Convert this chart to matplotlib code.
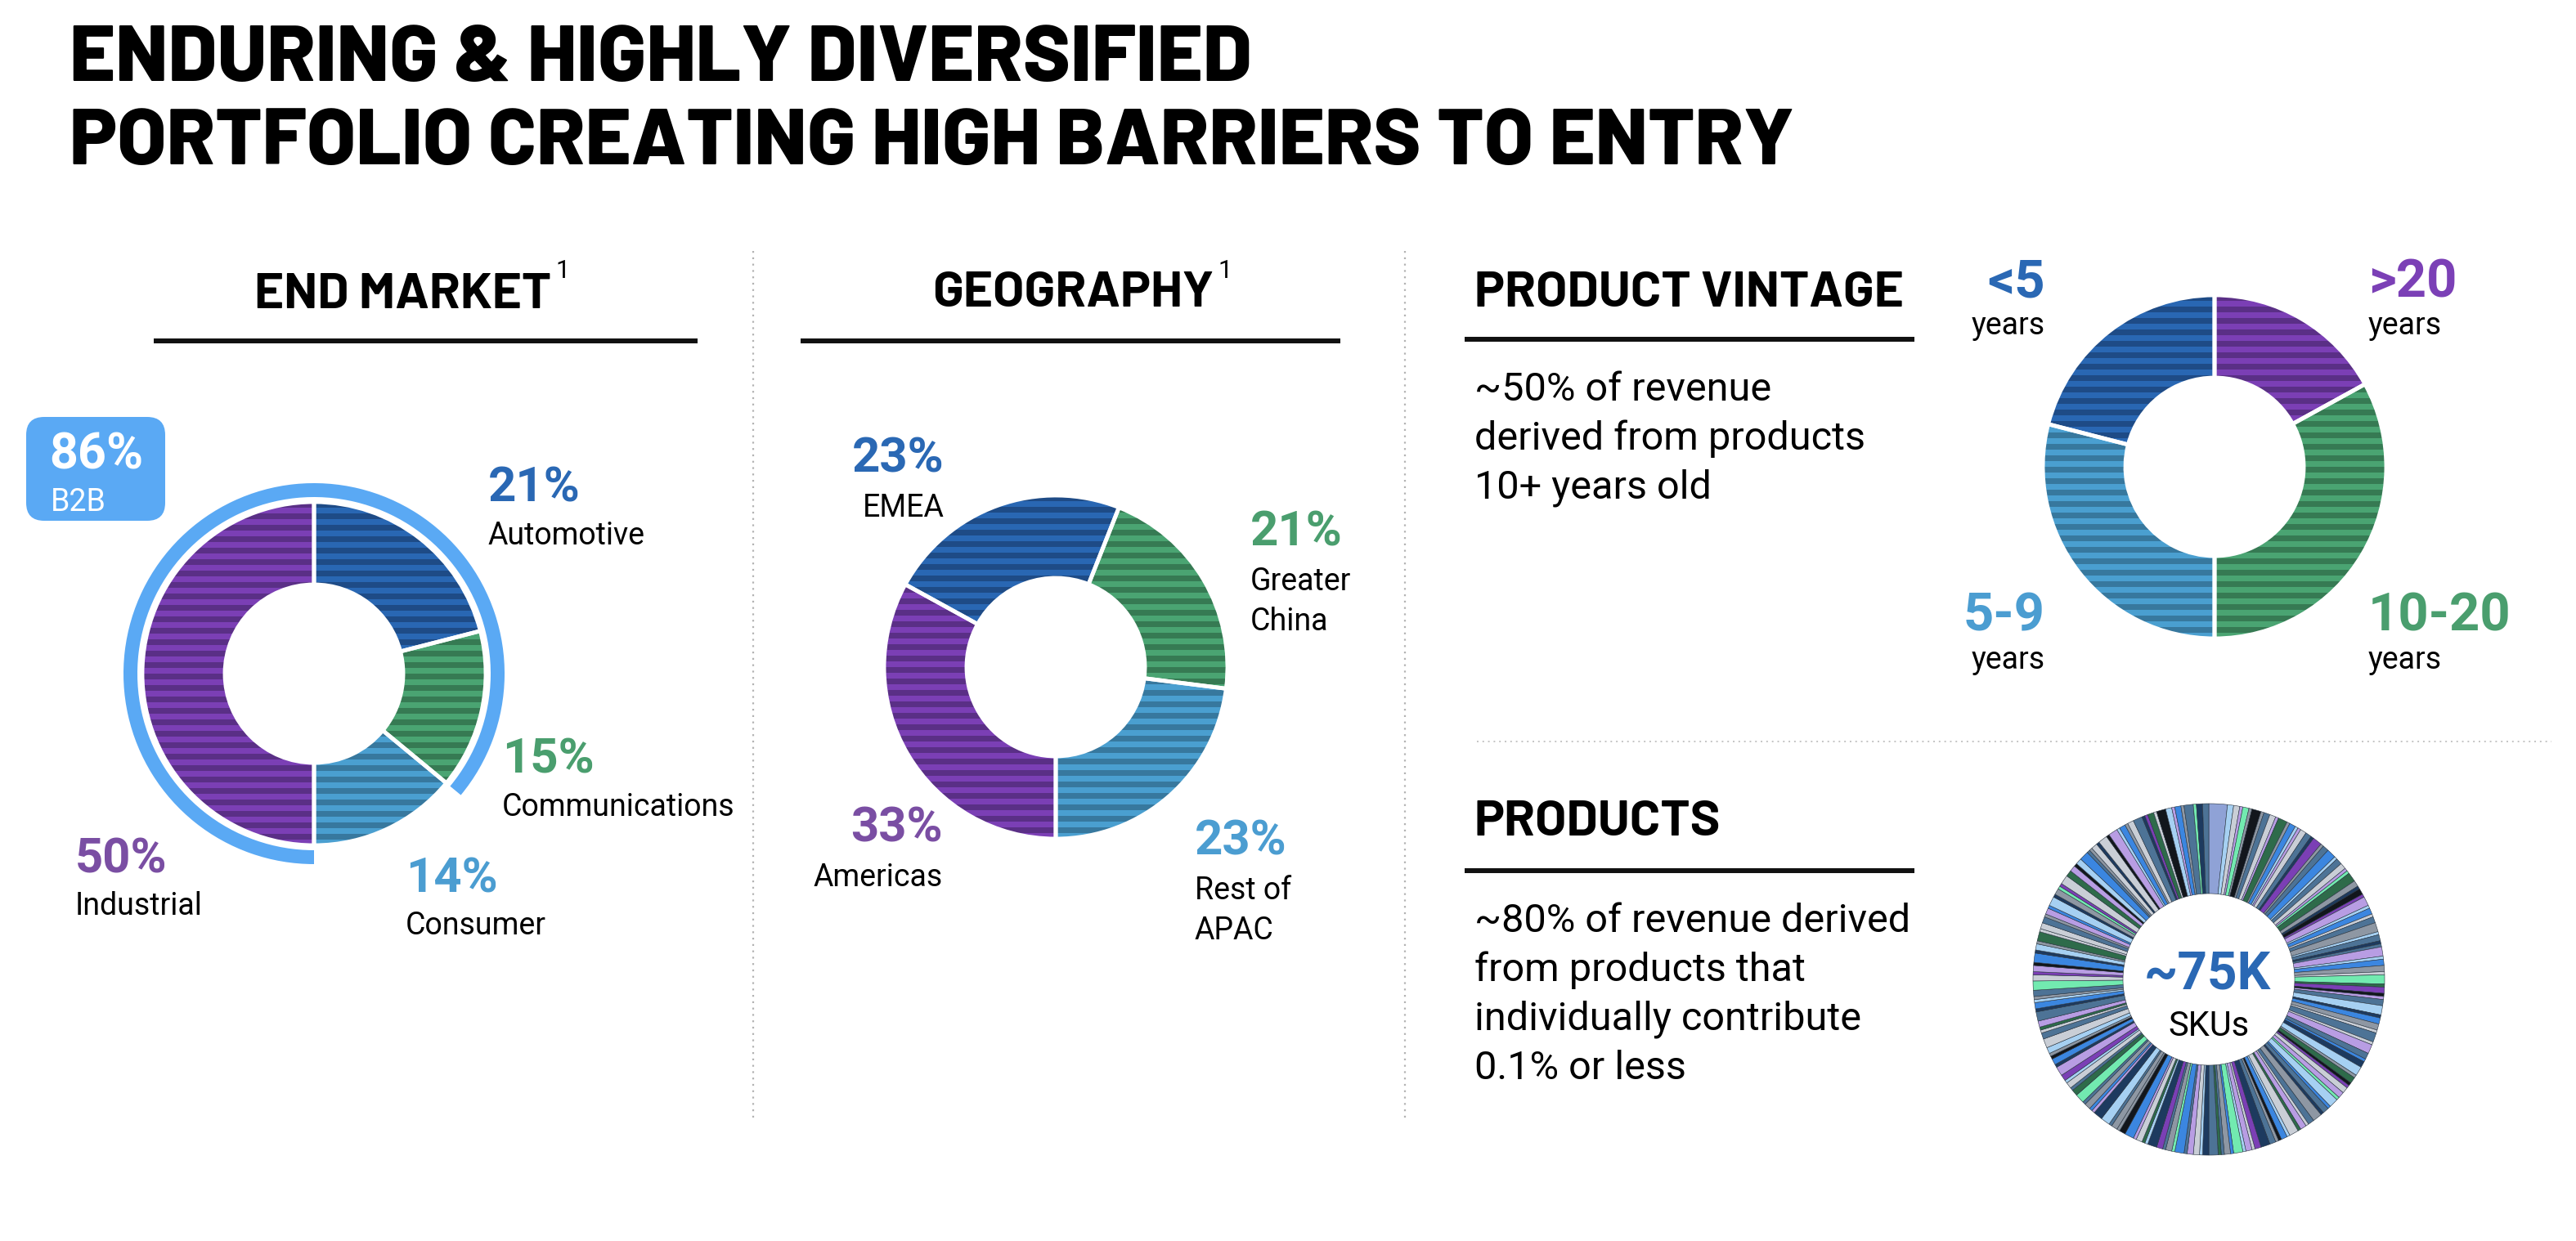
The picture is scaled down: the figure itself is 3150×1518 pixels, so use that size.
import numpy as np
import matplotlib
matplotlib.use("Agg")
import matplotlib.pyplot as plt
from matplotlib import font_manager as fm
from matplotlib.patches import FancyBboxPatch

W, H, DPI = 3150, 1518, 100

_names = {f.name for f in fm.fontManager.ttflist}
HEAD = next((n for n in ["Barlow", "Roboto Condensed", "Roboto"] if n in _names), "DejaVu Sans")
BODY = "Roboto" if "Roboto" in _names else "DejaVu Sans"

# ---- datos ----
END_LABELS = ["Automotive", "Communications", "Consumer", "Industrial"]
END_SHARES = [21, 15, 14, 50]
B2B_SHARE = 86
GEO_LABELS = ["Americas", "EMEA", "Greater\nChina", "Rest of\nAPAC"]
GEO_SHARES = [33, 23, 21, 23]
VIN_LABELS = [">20", "10-20", "5-9", "<5"]
VIN_SHARES = [17, 33, 29, 21]
SKU_TOTAL = "~75K"

# SKUs: secuencia de colores y pesos de cada porción (leídos a ojo)
SKU_CODES = ("wlsvmgkgtsvdgblvstnp" "gtbltsvmdgnkpvlbstgl" "tntvlbgsmdpkvtlnbgst"
             "svtbnlgdkpsvmlbtngts" "vdslbkgtnpsvlmbgtdtn" "lsvtbmgtpnldsvbkggtl"
             "nvbgtmdtslpvnbkglsts" "dvtnblgtmspvkbnlgdss" "tgvblngmpsdvklbtgsns"
             "kvlbgstnpdsklvbgtmnt")
SKU_WEIGHTS = ("62212131221312112213" "12312211321213121231" "21131221312112312213"
               "13212312112213121321" "21312112321213121132" "12213121231121321213"
               "31121321212312112321" "12312112321213121312" "21213121132212311213"
               "13121231121321213122")
SKU_PALETTE = {"w": "#8fa2d6", "n": "#1d3a5f", "b": "#3b86e0", "l": "#a6d0f2",
               "g": "#8e97a3", "s": "#c9ced6", "p": "#7b3fb5", "v": "#b89de3",
               "m": "#72eab0", "d": "#2e6b4a", "k": "#12161c", "t": "#4d7396"}

# colores (claro, franja oscura)
BLUE = ("#2967b3", "#1e4b86")
GREEN = ("#4aa472", "#367a53")
SKY = ("#4a9fd0", "#37789e")
PURPLE = ("#7b3fb5", "#5a2f86")
RING = "#5aa9f4"
C_BLUE, C_GREEN, C_SKY, C_PURPLE = "#2a68b4", "#4a9e6e", "#4b9dd1", "#7a4ea3"
STRIPE = 14  # px

fig = plt.figure(figsize=(W / DPI, H / DPI), dpi=DPI)
ax = fig.add_axes([0, 0, 1, 1])
ax.set_xlim(0, W)
ax.set_ylim(H, 0)
ax.axis("off")


def txt(x, y, s, size, color="black", weight="normal", ha="left", family=BODY, **kw):
    return ax.text(x, y, s, fontsize=size, color=color, fontweight=weight, ha=ha,
                   va="baseline", family=family, **kw)


def fit(t, width):
    r = fig.canvas.get_renderer()
    w = t.get_window_extent(r).width
    t.set_fontsize(t.get_fontsize() * width / w)
    return t.get_fontsize()


def sup_after(t, baseline):
    r = fig.canvas.get_renderer()
    bb = t.get_window_extent(r)
    x = ax.transData.inverted().transform((bb.x1, bb.y0))[0]
    txt(x + 5, baseline, "1", 22)


def donut(cx, cy, shares, colors, start, r_out=210, r_in=109, half=250):
    a = fig.add_axes([(cx - half) / W, 1 - (cy + half) / H, 2 * half / W, 2 * half / H])
    wedges, _ = a.pie(shares, radius=r_out, startangle=start, counterclock=False,
                      colors=[c[0] for c in colors],
                      wedgeprops=dict(width=r_out - r_in, linewidth=0))
    for w, c in zip(wedges, colors):
        for y0 in np.arange(r_out, -r_out, -STRIPE):
            s = a.axhspan(y0 - STRIPE / 2, y0, color=c[1], lw=0)
            s.set_clip_path(w)
    a.pie(shares, radius=r_out, startangle=start, counterclock=False,
          wedgeprops=dict(width=r_out - r_in, facecolor="none", edgecolor="white", linewidth=3.5))
    a.set_xlim(-half, half)
    a.set_ylim(-half, half)
    a.set_aspect("equal")
    a.axis("off")
    return a


# ---- título ----
t2 = txt(85, 201, "PORTFOLIO CREATING HIGH BARRIERS TO ENTRY", 70, weight="heavy", family=HEAD)
fs = fit(t2, 2110)
txt(85, 99, "ENDURING & HIGHLY DIVERSIFIED", fs, weight="heavy", family=HEAD)

# ---- cabeceras ----
h_pv = txt(1803, 375, "PRODUCT VINTAGE", 40, weight="bold", family=HEAD)
hfs = fit(h_pv, 525)
txt(1803, 1022, "PRODUCTS", hfs, weight="bold", family=HEAD)
h_em = txt(493, 377, "END MARKET", hfs, weight="bold", family=HEAD, ha="center")
h_geo = txt(1312, 375, "GEOGRAPHY", hfs, weight="bold", family=HEAD, ha="center")
sup_after(h_em, 340)
sup_after(h_geo, 340)

for x0, x1, y in [(188, 853, 417), (979, 1639, 417), (1791, 2341, 415), (1791, 2341, 1065)]:
    ax.plot([x0, x1], [y, y], color="#111111", lw=4.3, solid_capstyle="butt")

# divisores punteados
for x in (921, 1718):
    ax.plot([x, x], [307, 1370], color="#b3b3b3", lw=1.6, ls=(0, (1, 2.5)))
ax.plot([1806, 3120], [907, 907], color="#c4c4c4", lw=1.4, ls=(0, (1, 2.5)))

# ---- END MARKET ----
a_em = donut(384, 824, END_SHARES, [BLUE, GREEN, SKY, PURPLE], 90)
a_em.pie([B2B_SHARE, 100 - B2B_SHARE], radius=233, startangle=-90, counterclock=False,
         colors=[RING, "none"], wedgeprops=dict(width=17, linewidth=0))
a_em.set_xlim(-250, 250)
a_em.set_ylim(-250, 250)

ax.add_patch(FancyBboxPatch((32, 510), 170, 127, boxstyle="round,pad=0,rounding_size=22",
                            facecolor=RING, edgecolor="none"))
txt(60, 573, f"{B2B_SHARE}%", 44, color="white", weight="bold")
txt(62, 625, "B2B", 27, color="white")

em_pos = [(597, 614, C_BLUE), (614, 946, C_GREEN), (496, 1091, C_SKY), (92, 1067, C_PURPLE)]
for lab, v, (x, y, c) in zip(END_LABELS, END_SHARES, em_pos):
    txt(x, y, f"{v}%", 43, color=c, weight="bold")
    txt(x, y + 52, lab, 27)

# ---- GEOGRAPHY ----
donut(1291, 816, GEO_SHARES, [PURPLE, BLUE, GREEN, SKY], -90)
geo_pos = [(1153, 1029, "right", C_PURPLE), (1155, 577, "right", C_BLUE),
           (1529, 667, "left", C_GREEN), (1461, 1045, "left", C_SKY)]
for lab, v, (x, y, ha, c) in zip(GEO_LABELS, GEO_SHARES, geo_pos):
    txt(x, y, f"{v}%", 43, color=c, weight="bold", ha=ha)
    for i, line in enumerate(lab.split("\n")):
        txt(x, y + 55 + 49 * i, line, 27, ha=ha)

# ---- PRODUCT VINTAGE ----
b1 = txt(1803, 490, "~50% of revenue", 30)
b2 = txt(1803, 550, "derived from products", 30)
bfs = fit(b2, 477)
b1.set_fontsize(bfs)
txt(1803, 610, "10+ years old", bfs)

donut(2708, 571, VIN_SHARES, [PURPLE, GREEN, SKY, BLUE], 90)
vin_pos = [(2896, 363, "left", "#7b40b6"), (2896, 772, "left", C_GREEN),
           (2501, 772, "right", C_SKY), (2501, 363, "right", C_BLUE)]
for lab, (x, y, ha, c) in zip(VIN_LABELS, vin_pos):
    txt(x, y, lab, 47, color=c, weight="bold", ha=ha)
    txt(x, y + 46, "years", 27, ha=ha)

# ---- PRODUCTS ----
p_lines = ["~80% of revenue derived", "from products that",
           "individually contribute", "0.1% or less"]
for i, line in enumerate(p_lines):
    txt(1803, 1140 + 60 * i, line, bfs)

half = 250
a_sku = fig.add_axes([(2701 - half) / W, 1 - (1198 + half) / H, 2 * half / W, 2 * half / H])
a_sku.pie([int(w) for w in SKU_WEIGHTS], radius=215, startangle=90, counterclock=False,
          colors=[SKU_PALETTE[c] for c in SKU_CODES],
          wedgeprops=dict(width=110, edgecolor="#26313d", linewidth=0.4))
a_sku.set_xlim(-half, half)
a_sku.set_ylim(-half, half)
a_sku.set_aspect("equal")
a_sku.axis("off")
txt(2699, 1210, SKU_TOTAL, 46, color=C_BLUE, weight="bold", ha="center")
txt(2701, 1267, "SKUs", 30, ha="center")

fig.savefig("out.png", dpi=DPI)
